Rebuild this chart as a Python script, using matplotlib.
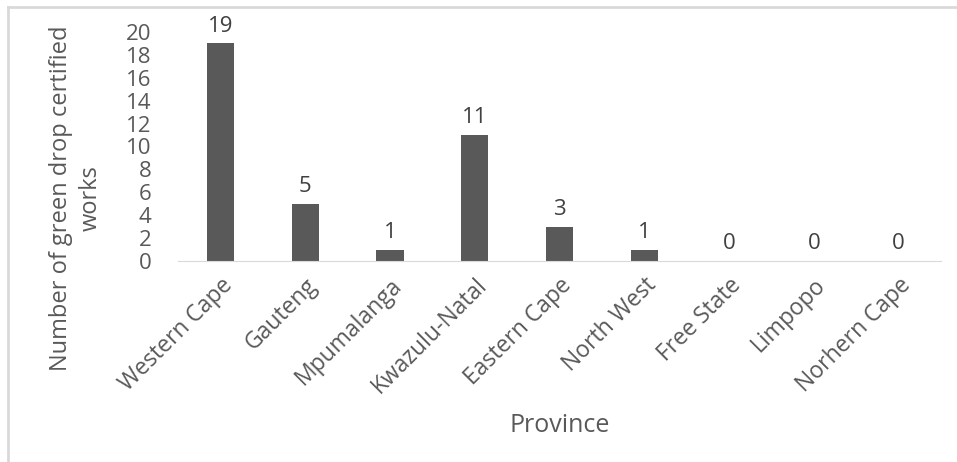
import matplotlib.pyplot as plt
from matplotlib.lines import Line2D

provinces = ["Western Cape", "Gauteng", "Mpumalanga", "Kwazulu-Natal",
             "Eastern Cape", "North West", "Free State", "Limpopo",
             "Norhern Cape"]
works = [19, 5, 1, 11, 3, 1, 0, 0, 0]
yticks = list(range(0, 21, 2))

plt.rcParams['font.family'] = ['Open Sans', 'DejaVu Sans']
txt = '#595959'

fig = plt.figure(figsize=(9.57, 4.62), dpi=100)
ax = fig.add_axes([178 / 957, 1 - 261 / 462, (941 - 178) / 957, (261 - 32) / 462])

x = range(len(provinces))
bars = ax.bar(x, works, width=0.32, color='#595959')
for b, v in zip(bars, works):
    ax.annotate(str(v), (b.get_x() + b.get_width() / 2, v),
                xytext=(0, 5), textcoords='offset points',
                ha='center', va='bottom', fontsize=16, color='#404040')

ax.set_xlim(-0.5, len(provinces) - 0.5)
ax.set_ylim(0, 20)
ax.set_yticks(yticks)
ax.set_yticklabels([str(t) for t in yticks], fontsize=16, color=txt)
ax.tick_params(axis='y', length=0, pad=19)
ax.set_xticks(list(x))
ax.set_xticklabels(provinces, rotation=45, ha='right', rotation_mode='anchor',
                   fontsize=16.5, color=txt)
ax.tick_params(axis='x', length=0, pad=9)

for s in ['top', 'right', 'left']:
    ax.spines[s].set_visible(False)
ax.spines['bottom'].set_color('#d9d9d9')

fig.text(76 / 957, 1 - 198 / 462, "Number of green drop certified\nworks",
         rotation=90, ha='center', va='center', fontsize=17, color=txt,
         multialignment='center', linespacing=1.3)
fig.text(560 / 957, 1 - 425 / 462, "Province", ha='center', va='center',
         fontsize=18, color=txt)

# outer frame (top and left edges visible)
fig.add_artist(Line2D([8 / 957, 8 / 957], [0, 1 - 7 / 462], color='#d9d9d9',
                      lw=2, transform=fig.transFigure))
fig.add_artist(Line2D([8 / 957, 1], [1 - 7 / 462, 1 - 7 / 462], color='#d9d9d9',
                      lw=2, transform=fig.transFigure))

fig.savefig('out.png', dpi=100)
